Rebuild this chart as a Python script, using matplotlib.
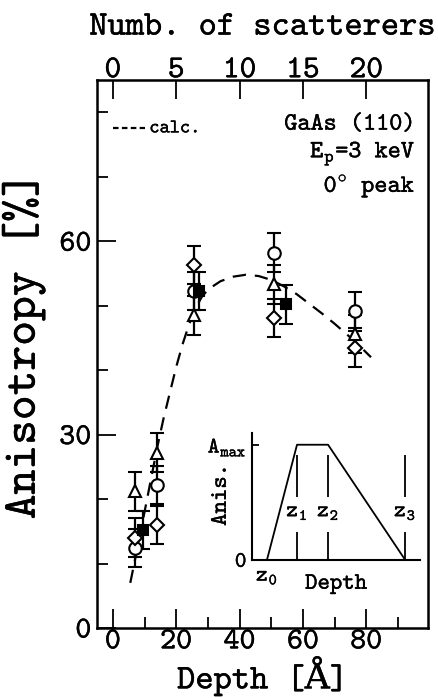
import matplotlib
matplotlib.use('Agg')
import matplotlib.pyplot as plt
import matplotlib.patheffects as pe
import numpy as np

plt.rcParams['font.family'] = ['cmtt10', 'DejaVu Serif']
plt.rcParams['mathtext.fontset'] = 'custom'
plt.rcParams['mathtext.rm'] = 'cmtt10'
plt.rcParams['mathtext.it'] = 'cmtt10'
plt.rcParams['axes.unicode_minus'] = False

# measured points (depth in Angstrom, anisotropy in %)
depth_open = [7, 14, 25.5, 50.8, 76.3]
circle = [12.4, 22.2, 52.3, 58.2, 49.1]
triangle = [21.2, 27.2, 48.5, 53.3, 45.6]
diamond = [14.0, 16.0, 56.3, 48.1, 43.5]
depth_sq = [9.5, 27.1, 54.6]
square = [15.2, 52.3, 50.2]
err = 3.0

# calculated curve
calc_depth = [5.5, 8, 10, 12, 14, 16, 18, 20, 22, 24, 26, 28, 30, 34, 38, 42,
              46, 50, 54, 58, 62, 66, 70, 74, 78, 81.5]
calc_anis = [7, 13, 18, 23, 28, 32.5, 36.5, 40.5, 44, 47, 49.5, 51.3, 52.5,
             53.8, 54.5, 54.8, 54.6, 54, 53, 51.8, 50.3, 48.8, 47.2, 45.5,
             43.7, 42]

# inset schematic
inset_z = [15, 45, 76, 153]
inset_a = [0, 1, 1, 0]

fig = plt.figure(figsize=(4.39, 6.98), dpi=100)
ax = fig.add_axes([0.221, 0.1003, 0.754, 0.785])

ax.plot(calc_depth, calc_anis, color='k', lw=1.6, ls=(0, (6, 4)))

eb = dict(color='k', ecolor='k', elinewidth=1.6, capsize=5, capthick=1.6,
          ms=9, mew=1.5, ls='none')
ax.errorbar(depth_open, circle, yerr=err, marker='o', mfc='white', mec='k', **eb)
ax.errorbar(depth_open, triangle, yerr=err, marker='^', mfc='white', mec='k', **eb)
ax.errorbar(depth_open, diamond, yerr=err, marker='D', mfc='white', mec='k',
            **dict(eb, ms=7.5))
ax.errorbar(depth_sq, square, yerr=err, marker='s', mfc='k', mec='k',
            **dict(eb, ms=7))

ax.set_xlim(-5, 99.5)
ax.set_ylim(0, 85)
ax.set_xticks([0, 20, 40, 60, 80])
ax.set_xticks([10, 30, 50, 70, 90], minor=True)
ax.set_yticks([0, 30, 60])
ax.set_yticks([10, 20, 40, 50, 70, 80], minor=True)
ax.tick_params(which='both', direction='in', top=False, right=False, width=1.3)
ax.tick_params(which='major', length=14, labelsize=22, pad=1)
ax.tick_params(axis='y', which='major', pad=4)
ax.tick_params(which='minor', length=8)
for s in ax.spines.values():
    s.set_linewidth(1.8)

ax.set_xlabel('Depth [Å]', fontsize=25, labelpad=0)
ax.set_ylabel('Anisotropy [%]', fontsize=34)
ax.yaxis.set_label_coords(-0.155, 0.515)

top = ax.secondary_xaxis('top', functions=(lambda d: d / 4.0, lambda n: n * 4.0))
top.set_xticks([0, 5, 10, 15, 20])
top.tick_params(direction='in', length=14, width=1.3, labelsize=23, pad=-3)
top.set_xlabel('Numb. of scatterers', fontsize=25, labelpad=17)

# legend for calculated curve
ax.plot([0, 10], [77.5, 77.5], color='k', lw=1.6, ls=(0, (2.5, 1.5)))
ax.text(11.5, 77.5, 'calc.', fontsize=14, va='center', ha='left')

ax.text(95.5, 78, 'GaAs (110)', fontsize=18, ha='right', va='center')
ax.text(95.5, 73.5, r'E$_{\mathrm{p}}$=3 keV', fontsize=18, ha='right', va='center')
ax.text(95.5, 68.5, r'0$^{\circ}$ peak', fontsize=18, ha='right', va='center')

# inset
ins = fig.add_axes([0.574, 0.198, 0.383, 0.182])
ins.patch.set_alpha(0)
ins.plot(inset_z, inset_a, color='k', lw=1.3)
ins.vlines(inset_z[1:], 0, 0.24, color='k', lw=1.3)
ins.vlines(inset_z[1:], 0.55, 0.91, color='k', lw=1.3)
for i, z in enumerate(inset_z[1:], start=1):
    ins.text(z, 0.41, 'z$_{%d}$' % i, fontsize=16, ha='center', va='center')
ins.text(inset_z[0], -0.15, 'z$_0$', fontsize=16, ha='center', va='center')
ins.set_xlim(0, 168)
ins.set_ylim(0, 1.104)
ins.spines['top'].set_visible(False)
ins.spines['right'].set_visible(False)
ins.spines['left'].set_linewidth(1.5)
ins.spines['bottom'].set_linewidth(1.5)
ins.set_xticks([])
ins.set_yticks([0, 1])
ins.set_yticklabels(['0', r'A$_{\mathrm{max}}$'], fontsize=16)
ins.tick_params(axis='y', direction='in', length=5, width=1.3, pad=4)
ins.set_xlabel('Depth', fontsize=17)
ins.set_ylabel('Anis.', fontsize=17)
ins.xaxis.set_label_coords(0.5, -0.11)
ins.yaxis.set_label_coords(-0.12, 0.51)

# thicken the thin typewriter strokes a little
for t in fig.findobj(matplotlib.text.Text):
    t.set_path_effects([pe.withStroke(linewidth=0.25, foreground='k')])

fig.savefig('out.png', dpi=100)
